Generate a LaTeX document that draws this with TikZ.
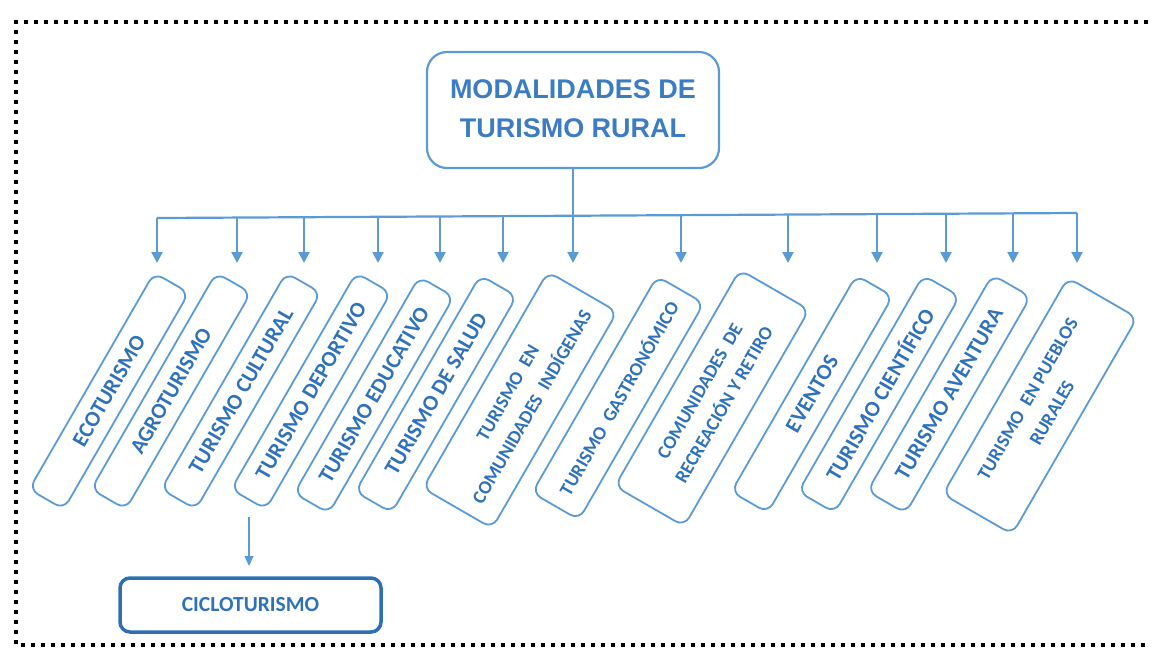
\documentclass[tikz,border=0pt]{standalone}
\usepackage{fontspec}
\setmainfont{Carlito}
\newfontfamily\titlefont{Liberation Sans}
\usetikzlibrary{arrows.meta}
\definecolor{lineblue}{HTML}{5B9BD5}
\definecolor{textblue}{HTML}{2F72BA}
\definecolor{titleblue}{HTML}{3C7CC3}
\definecolor{cicloblue}{HTML}{2E6FB2}
\begin{document}
\begin{tikzpicture}[x=1pt,y=-1pt,
  modbox/.style={draw=lineblue, line width=1.8pt, rounded corners=10pt, rotate=60,
    minimum width=250pt, inner sep=0pt, align=center, text=textblue,
    font=\bfseries\fontsize{22}{26}\selectfont},
  twoline/.style={font=\bfseries\fontsize{19}{28}\selectfont},
  feed/.style={draw=lineblue, line width=2.2pt, -{Triangle[width=11pt,length=11pt]}},
  feedthin/.style={draw=lineblue, line width=1.6pt, -{Triangle[width=9pt,length=10pt]}},
  bus/.style={draw=lineblue, line width=2.2pt},
  frame/.style={draw=black, line width=4pt, dash pattern=on 4pt off 6pt},
]
\useasboundingbox (0,0) rectangle (1155,657);

% dotted frame (open on the right)
\draw[frame] (1148,22) -- (16,22) -- (16,645) -- (1148,645);

% title
\node[draw=lineblue, line width=2.2pt, rounded corners=20pt, minimum width=292pt,
      minimum height=116pt, inner sep=0pt, text=titleblue,
      font=\titlefont\bfseries\fontsize{27}{39}\selectfont] (title) at (573,110)
  {\raisebox{6pt}{\begin{tabular}{@{}c@{}}MODALIDADES DE\\TURISMO RURAL\end{tabular}}};

% modality boxes
\node[modbox, minimum height=40pt] (m1) at (109,391) {ECOTURISMO};
\node[modbox, minimum height=40pt] (m2) at (171,391) {AGROTURISMO};
\node[modbox, minimum height=40pt] (m3) at (241,391) {TURISMO CULTURAL};
\node[modbox, minimum height=40pt] (m4) at (311,391) {TURISMO DEPORTIVO};
\node[modbox, minimum height=40pt] (m5) at (374,395) {TURISMO EDUCATIVO};
\node[modbox, minimum height=42pt] (m6) at (436,394) {TURISMO DE SALUD};
\node[modbox, twoline, minimum height=80pt] (m7) at (520,400) {TURISMO\ \ EN\\COMUNIDADES\ \ INDÍGENAS};
\node[modbox, twoline, minimum height=54pt] (m8) at (618,398) {TURISMO\ \ GASTRONÓMICO};
\node[modbox, twoline, minimum height=80pt] (m9) at (712,398) {COMUNIDADES\ \ DE\\RECREACIÓN Y RETIRO};
\node[modbox, minimum height=42pt] (m10) at (812,394) {EVENTOS};
\node[modbox, minimum height=42pt] (m11) at (879,394) {TURISMO CIENTÍFICO};
\node[modbox, minimum height=44pt] (m12) at (949,394) {TURISMO AVENTURA};
\node[modbox, twoline, minimum height=80pt] (m13) at (1040,406) {TURISMO\ \ EN PUEBLOS\\RURALES};

% sub-modality
\node[draw=cicloblue, line width=3.5pt, rounded corners=10pt, minimum width=261pt,
      minimum height=54pt, inner sep=0pt, text=textblue,
      font=\bfseries\fontsize{21.5}{24}\selectfont] (ciclo) at (250.5,605) {CICLOTURISMO};

% connectors
\coordinate (j) at (573,215.8);
\coordinate (busL) at (157,218);
\coordinate (busR) at (1077,213);
\draw[bus] (title.south) -- (j);
\draw[bus] (busL) -- (busR);
\foreach \i/\x/\y in {1/157/218,2/237/217.6,3/304/217.2,4/378/216.8,5/440/216.5,
                      6/503/216.1,7/573/215.8,8/681/215.2,9/788/214.6,10/877/214.1,
                      11/946/213.7,12/1013/213.3,13/1077/213}{
  \coordinate (d\i) at (\x,\y);
  \coordinate (t\i) at (\x,263);
  \draw[feed] (d\i) -- (t\i);
}
\coordinate (cs) at (249,517);
\coordinate (ce) at (249,566);
\draw[feedthin] (cs) -- (ce);
\end{tikzpicture}
\end{document}
